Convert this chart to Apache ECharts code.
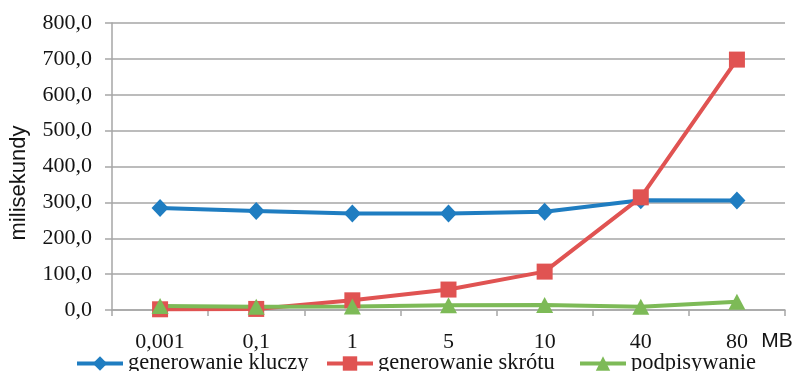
<!DOCTYPE html>
<html>
<head>
<meta charset="utf-8">
<script src="https://cdn.jsdelivr.net/npm/echarts@6/dist/echarts.min.js"></script>
<style>
  html, body { margin: 0; padding: 0; background: #fff; }
  #chart { width: 796px; height: 371px; }
</style>
</head>
<body>
<div id="chart"></div>
<script>
// File sizes (MB) on the category axis
const sizes = ['0,001', '0,1', '1', '5', '10', '40', '80'];
// Timings in milliseconds
const keyGeneration = [284, 276, 269, 269, 274, 306, 305];
const hashGeneration = [2, 3, 27, 57, 107, 314, 698];
const signing = [11, 9, 10, 13, 14, 9, 23];
const seriesNames = ['generowanie kluczy', 'generowanie skrótu', 'podpisywanie'];
const yTicks = { min: 0, max: 800, interval: 100 };

const serif = '"Liberation Serif", "Times New Roman", serif';
const sans = '"Liberation Sans", Arial, sans-serif';
const gridGray = '#a6a6a6';
const ink = '#141414';

const chart = echarts.init(document.getElementById('chart'), null, { renderer: 'canvas' });

function lineSeries(name, data, color, symbol, size) {
  return {
    name: name,
    type: 'line',
    data: data,
    symbol: symbol,
    symbolSize: size,
    showAllSymbol: true,
    lineStyle: { color: color, width: 4 },
    itemStyle: { color: color },
    emphasis: { disabled: true },
    animation: false
  };
}

// one legend block per series so each entry sits at its own offset
function legendBlock(name, left) {
  return {
    left: left,
    top: 347,
    itemWidth: 46,
    itemHeight: 18,
    lineStyle: { width: 4 },
    textStyle: { fontFamily: serif, fontSize: 22.5, color: ink },
    data: [name]
  };
}

chart.setOption({
  animation: false,
  grid: { left: 112, right: 11, top: 23, bottom: 61 },
  legend: [
    legendBlock(seriesNames[0], 70),
    legendBlock(seriesNames[1], 320),
    legendBlock(seriesNames[2], 573)
  ],
  xAxis: {
    type: 'category',
    data: sizes,
    boundaryGap: true,
    axisLine: { lineStyle: { color: gridGray, width: 1.5 } },
    axisTick: { show: true, length: 6, lineStyle: { color: gridGray, width: 1.5 } },
    axisLabel: { fontFamily: serif, fontSize: 22, color: ink, margin: 21 }
  },
  yAxis: {
    type: 'value',
    min: yTicks.min,
    max: yTicks.max,
    interval: yTicks.interval,
    axisLine: { show: true, lineStyle: { color: gridGray, width: 1.5 } },
    axisTick: { show: true, length: 7, lineStyle: { color: gridGray, width: 1.5 } },
    splitLine: { lineStyle: { color: gridGray, width: 1.5 } },
    axisLabel: {
      fontFamily: serif,
      fontSize: 22,
      color: ink,
      margin: 20,
      formatter: v => v.toFixed(1).replace('.', ',')
    }
  },
  graphic: [
    {
      type: 'text',
      x: 19,
      y: 183,
      rotation: Math.PI / 2,
      style: {
        text: 'milisekundy',
        fontFamily: sans,
        fontSize: 22,
        fill: ink,
        align: 'center',
        verticalAlign: 'middle'
      }
    },
    {
      type: 'text',
      x: 777,
      y: 341,
      style: {
        text: 'MB',
        fontFamily: sans,
        fontSize: 21,
        fill: ink,
        align: 'center',
        verticalAlign: 'middle'
      }
    }
  ],
  series: [
    lineSeries(seriesNames[0], keyGeneration, '#1f7dc1', 'diamond', [17, 18]),
    lineSeries(seriesNames[1], hashGeneration, '#e05352', 'rect', 16),
    lineSeries(seriesNames[2], signing, '#7dba57', 'triangle', [17, 16])
  ]
});
</script>
</body>
</html>
